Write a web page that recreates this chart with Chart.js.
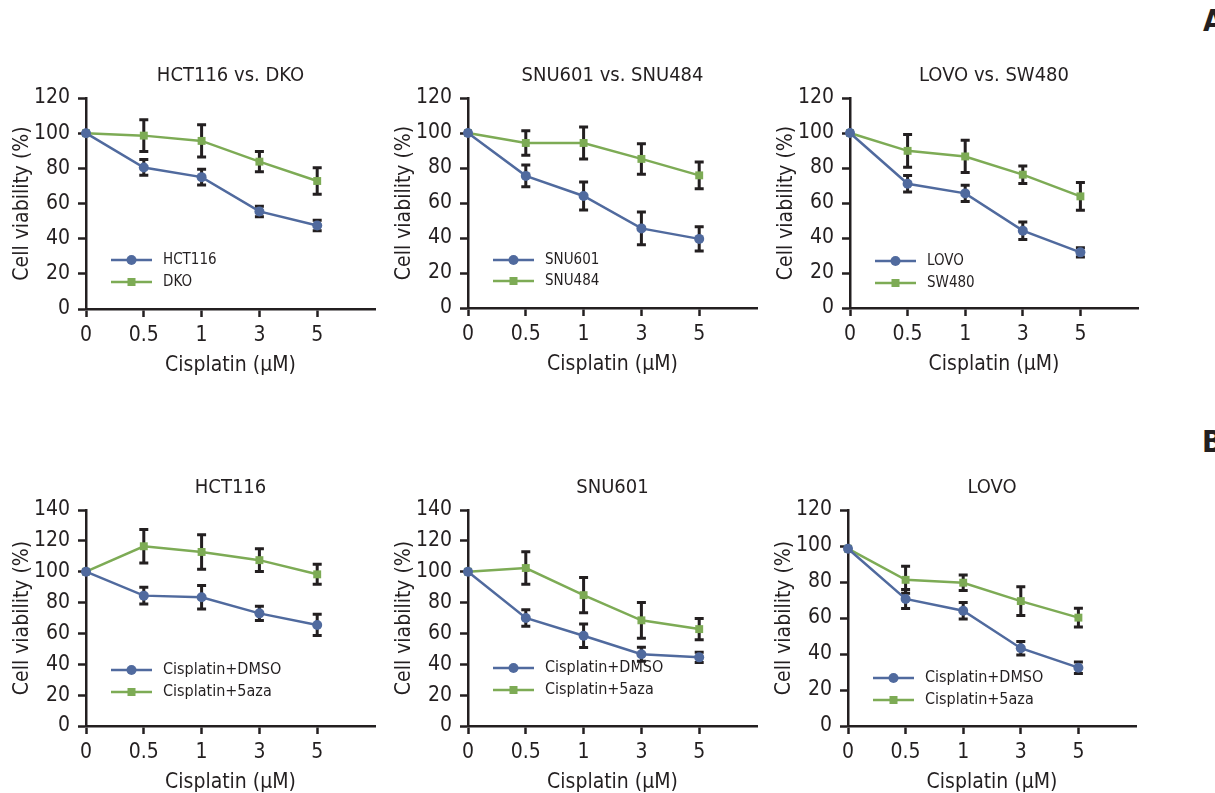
<!DOCTYPE html>
<html lang="en">
<head>
<meta charset="UTF-8">
<title>Cisplatin viability</title>
<style>
  body { margin: 0; background: #fff; width: 1215px; height: 793px; position: relative; overflow: hidden; }
  .panel { position: absolute; }
  .tag { position: absolute; font: bold 30px 'Liberation Sans Narrow', 'DejaVu Sans Condensed', sans-serif; color: #231f20; line-height: 1; }
</style>
</head>
<body>
<div class="tag" style="left:1203px;top:6px">A</div>
<div class="tag" style="left:1202px;top:427px">B</div>
<div class="panel" id="p1"><canvas id="c1"></canvas></div>
<div class="panel" id="p2"><canvas id="c2"></canvas></div>
<div class="panel" id="p3"><canvas id="c3"></canvas></div>
<div class="panel" id="p4"><canvas id="c4"></canvas></div>
<div class="panel" id="p5"><canvas id="c5"></canvas></div>
<div class="panel" id="p6"><canvas id="c6"></canvas></div>

<script src="https://cdn.jsdelivr.net/npm/chart.js"></script>
<script>
// doses on the x axis
const doses = ['0', '0.5', '1', '3', '5'];

// panel A
const hct116 = [100, 80.5, 75, 55.5, 47.5];
const hct116Err = [0, 4.5, 4.5, 3, 3];
const dko = [100, 98.6, 95.6, 83.8, 72.8];
const dkoErr = [0, 9, 9.2, 5.8, 7.6];
const snu601 = [100, 75.5, 64, 45.5, 39.5];
const snu601Err = [0, 6.2, 8, 9.4, 6.9];
const snu484 = [100, 94.3, 94.3, 85.2, 75.8];
const snu484Err = [0, 7, 9.1, 8.7, 7.7];
const lovo = [100, 71, 65.5, 44.2, 31.8];
const lovoErr = [0, 4.7, 4.6, 5, 2.6];
const sw480 = [100, 89.8, 86.6, 76.2, 63.8];
const sw480Err = [0, 9.3, 9.2, 5, 7.9];

// panel B
const hctDmso = [100, 84.5, 83.5, 73, 65.5];
const hctDmsoErr = [0, 5.4, 7.6, 4.6, 6.9];
const hct5aza = [100, 116.5, 112.8, 107.5, 98.3];
const hct5azaErr = [0, 10.9, 11.2, 7.4, 6.5];
const snuDmso = [100, 70, 58.5, 46.5, 44.5];
const snuDmsoErr = [0, 5.4, 7.6, 4.5, 3.3];
const snu5aza = [100, 102.4, 84.8, 68.5, 62.8];
const snu5azaErr = [0, 10.6, 11.4, 11.6, 6.9];
const lovoDmso = [98.5, 70.6, 64, 43.2, 32.4];
const lovoDmsoErr = [0, 5.3, 4.6, 3.8, 3.2];
const lovo5aza = [98.5, 81.2, 79.6, 69.4, 60.2];
const lovo5azaErr = [0, 7.5, 4.3, 8, 5.2];

const BLUE = '#506a9e';
const GREEN = '#7dab55';
const INK = '#231f20';
const FAMILY = "'Liberation Sans Narrow', 'DejaVu Sans Condensed', 'Liberation Sans', sans-serif";
const Y_AXIS_W = 80, X_AXIS_H = 80;

// error bars, drawn under the markers
const errorBars = {
  id: 'errorBars',
  beforeDatasetsDraw(chart) {
    const ctx = chart.ctx, y = chart.scales.y;
    chart.data.datasets.forEach((ds, i) => {
      const meta = chart.getDatasetMeta(i);
      ctx.save();
      ctx.strokeStyle = INK;
      ctx.lineWidth = 3;
      meta.data.forEach((pt, j) => {
        const e = ds.errors[j];
        if (!e) return;
        const v = ds.data[j].y;
        const top = y.getPixelForValue(v + e), bot = y.getPixelForValue(v - e);
        ctx.beginPath();
        ctx.moveTo(pt.x, top); ctx.lineTo(pt.x, bot);
        ctx.moveTo(pt.x - 4.5, top); ctx.lineTo(pt.x + 4.5, top);
        ctx.moveTo(pt.x - 4.5, bot); ctx.lineTo(pt.x + 4.5, bot);
        ctx.stroke();
      });
      ctx.restore();
    });
  }
};

// legend inside the plot, bottom left
const insideLegend = {
  id: 'insideLegend',
  afterDatasetsDraw(chart, args, opts) {
    const { ctx, chartArea } = chart;
    chart.data.datasets.forEach((ds, i) => {
      const y = chartArea.bottom - opts.rows[i];
      const x0 = chartArea.left + 25, x1 = chartArea.left + 66, xm = (x0 + x1) / 2;
      ctx.save();
      ctx.strokeStyle = ds.borderColor;
      ctx.lineWidth = ds.borderWidth;
      ctx.beginPath(); ctx.moveTo(x0, y); ctx.lineTo(x1, y); ctx.stroke();
      ctx.fillStyle = ds.backgroundColor;
      if (ds.pointStyle === 'rect') {
        ctx.fillRect(xm - 4, y - 4, 8, 8);
      } else {
        ctx.beginPath(); ctx.arc(xm, y, 5, 0, Math.PI * 2); ctx.fill();
      }
      ctx.fillStyle = INK;
      ctx.font = opts.size + 'px ' + FAMILY;
      ctx.textBaseline = 'middle';
      ctx.fillText(ds.label, chartArea.left + 77, y);
      ctx.restore();
    });
  }
};

// panel heading, centred over the plot
const panelTitle = {
  id: 'panelTitle',
  afterDraw(chart, args, opts) {
    const { ctx, chartArea } = chart;
    ctx.save();
    ctx.fillStyle = INK;
    ctx.font = '20px ' + FAMILY;
    ctx.textAlign = 'center';
    ctx.textBaseline = 'middle';
    ctx.fillText(opts.text, (chartArea.left + chartArea.right) / 2, chartArea.top - 22);
    ctx.restore();
  }
};

function series(label, values, errors, color, style) {
  return {
    label: label,
    data: values.map((v, i) => ({ x: i, y: v })),
    errors: errors,
    borderColor: color,
    backgroundColor: color,
    borderWidth: 2.5,
    pointStyle: style,
    pointRadius: style === 'rect' ? 5.6 : 5,
    pointBorderWidth: 0,
    clip: false
  };
}

function panel(id, box, title, yMax, legendRows, legendSize, datasets) {
  const L = box.x0 - 86, T = box.top - 60;
  const W = box.x1 - L + 10, H = box.bottom - T + 90;
  const div = document.getElementById('p' + id);
  div.style.left = L + 'px'; div.style.top = T + 'px';
  const cv = document.getElementById('c' + id);
  cv.width = W; cv.height = H;

  const axisLine = { display: true, color: INK, width: 2.5 };
  const tickMarks = { display: true, drawOnChartArea: false, drawTicks: true, tickLength: 8, tickWidth: 2.5, tickColor: INK };

  new Chart(cv, {
    type: 'line',
    data: { datasets: datasets },
    plugins: [errorBars, insideLegend, panelTitle],
    options: {
      responsive: false,
      animation: false,
      layout: {
        autoPadding: false,
        padding: {
          left: box.x0 - L - Y_AXIS_W,
          top: box.top - T,
          right: L + W - box.x1,
          bottom: T + H - box.bottom - X_AXIS_H
        }
      },
      plugins: {
        legend: { display: false },
        tooltip: { enabled: false },
        insideLegend: { rows: legendRows, size: legendSize },
        panelTitle: { text: title }
      },
      scales: {
        x: {
          type: 'linear', min: 0, max: 5,
          afterFit: s => { s.height = X_AXIS_H; },
          afterBuildTicks: s => { s.ticks = s.ticks.filter(t => t.value <= 4); },
          ticks: { stepSize: 1, padding: 6, color: INK, font: { family: FAMILY, size: 21 }, callback: v => doses[v] },
          grid: tickMarks,
          border: axisLine,
          title: { display: true, text: 'Cisplatin (μM)', color: INK, font: { family: FAMILY, size: 21 }, padding: { top: 0, bottom: 11 } }
        },
        y: {
          min: 0, max: yMax,
          afterFit: s => { s.width = Y_AXIS_W; },
          ticks: { stepSize: 20, padding: 8, color: INK, font: { family: FAMILY, size: 21 } },
          grid: tickMarks,
          border: axisLine,
          title: { display: true, text: 'Cell viability (%)', color: INK, font: { family: FAMILY, size: 21 }, padding: { top: 4, bottom: 0 } }
        }
      }
    }
  });
}

panel(1, { x0: 86, x1: 375, top: 97.5, bottom: 308.5 }, 'HCT116 vs. DKO', 120, [49, 27], 15, [
  series('HCT116', hct116, hct116Err, BLUE, 'circle'),
  series('DKO', dko, dkoErr, GREEN, 'rect')
]);
panel(2, { x0: 467.5, x1: 756.5, top: 97.5, bottom: 308 }, 'SNU601 vs. SNU484', 120, [48, 27], 15, [
  series('SNU601', snu601, snu601Err, BLUE, 'circle'),
  series('SNU484', snu484, snu484Err, GREEN, 'rect')
]);
panel(3, { x0: 850, x1: 1138, top: 97.5, bottom: 308 }, 'LOVO vs. SW480', 120, [47, 25], 15, [
  series('LOVO', lovo, lovoErr, BLUE, 'circle'),
  series('SW480', sw480, sw480Err, GREEN, 'rect')
]);
panel(4, { x0: 86, x1: 375, top: 509.5, bottom: 726 }, 'HCT116', 140, [56, 34], 16, [
  series('Cisplatin+DMSO', hctDmso, hctDmsoErr, BLUE, 'circle'),
  series('Cisplatin+5aza', hct5aza, hct5azaErr, GREEN, 'rect')
]);
panel(5, { x0: 467.5, x1: 756.5, top: 509.5, bottom: 726 }, 'SNU601', 140, [58, 36], 16, [
  series('Cisplatin+DMSO', snuDmso, snuDmsoErr, BLUE, 'circle'),
  series('Cisplatin+5aza', snu5aza, snu5azaErr, GREEN, 'rect')
]);
panel(6, { x0: 848, x1: 1136, top: 510, bottom: 726 }, 'LOVO', 120, [48, 26], 16, [
  series('Cisplatin+DMSO', lovoDmso, lovoDmsoErr, BLUE, 'circle'),
  series('Cisplatin+5aza', lovo5aza, lovo5azaErr, GREEN, 'rect')
]);
</script>
</body>
</html>
